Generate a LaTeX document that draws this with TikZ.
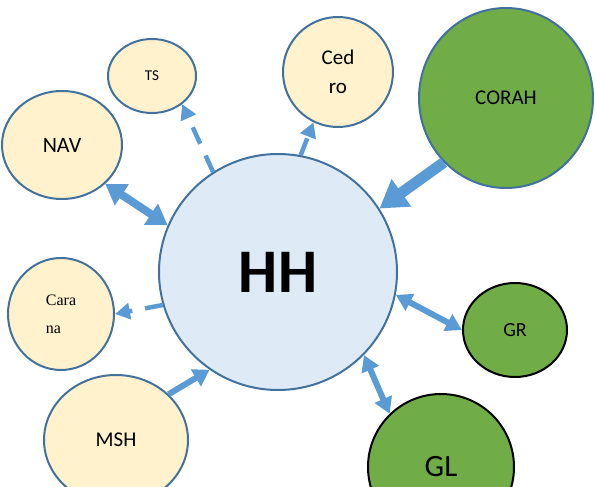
\documentclass[tikz,border=0pt]{standalone}
\usepackage{fontspec}
\setmainfont{Carlito}
\newfontfamily\serifnote{Liberation Serif}
\usetikzlibrary{shapes.geometric,arrows.meta}

\definecolor{cream}{HTML}{FFF2CC}
\definecolor{hubblue}{HTML}{DEEBF7}
\definecolor{leafgreen}{HTML}{70AD47}
\definecolor{rim}{HTML}{41719C}
\definecolor{flow}{HTML}{5B9BD5}

\begin{document}
\begin{tikzpicture}[x = 1pt, y = -1pt,
    blob/.style = {ellipse, line width = 2pt, inner sep = 0pt, text = black},
    soft/.style = {blob, draw = rim, fill = cream},
    grove/.style = {blob, draw = black, fill = leafgreen},
    link/.style = {draw = flow, line width = #1},
    dlink/.style = {draw = flow, line width = 4.5pt, dash pattern = on 18pt off 13pt,
        -{Triangle[length = 15pt, width = 16pt]}}]

    \clip (0, 0) rectangle (595, 487);

    \node [blob, draw = rim, fill = hubblue, minimum width = 238pt, minimum height = 236pt,
        font = \bfseries\fontsize{62}{62}\selectfont] (hh) at (278, 272) {HH};

    \node [soft, minimum width = 88pt, minimum height = 74pt,
        font = \fontsize{15}{18}\selectfont] (ts) at (152, 76) {TS};
    \node [soft, minimum width = 120pt, minimum height = 108pt,
        font = \fontsize{22}{26}\selectfont] (nav) at (62, 145) {NAV};
    \node [soft, minimum width = 110pt, minimum height = 110pt, align = center,
        font = \fontsize{21}{29}\selectfont] (cedro) at (338, 72) {Ced\\ro};
    \node [soft, minimum width = 106pt, minimum height = 112pt, align = left,
        font = \serifnote\fontsize{16}{28}\selectfont] (carana) at (61, 314) {Cara\\na};
    \node [soft, minimum width = 144pt, minimum height = 130pt,
        font = \fontsize{21}{25}\selectfont] (msh) at (116, 440) {MSH};

    %%%%%%%%%%%%%%%%%%%%
    \node [blob, draw = rim, fill = leafgreen, minimum width = 174pt, minimum height = 180pt,
        font = \fontsize{21}{25}\selectfont] (corah) at (506, 98) {CORAH};
    \node [grove, minimum width = 104pt, minimum height = 94pt,
        font = \fontsize{20}{24}\selectfont] (gr) at (515, 330) {GR};
    \node [grove, minimum width = 146pt, minimum height = 146pt,
        font = \fontsize{31}{36}\selectfont] (gl) at (441, 467) {GL};

    %%%%%%%%%%%%%%%%%%%%
    \draw [dlink] (hh.123) -- (ts.-43);
    \draw [dlink] (hh.79) -- (cedro.-116);
    \draw [dlink] (hh.196) -- (carana.0);

    \draw [link = 8pt, {Triangle[length = 20pt, width = 24pt]}-{Triangle[length = 20pt, width = 24pt]}] (nav.-42) -- (hh.157);
    \draw [link = 11pt, -{Triangle[length = 27pt, width = 32pt]}] (corah.-134) -- (hh.32);
    \draw [link = 6pt, -{Triangle[length = 16pt, width = 19pt]}] (msh.41) -- (hh.235);
    \draw [link = 6pt, {Triangle[length = 16pt, width = 18pt]}-{Triangle[length = 16pt, width = 18pt]}] (hh.-11) -- (gr.180);
    \draw [link = 6pt, {Triangle[length = 16pt, width = 18pt]}-{Triangle[length = 16pt, width = 18pt]}] (hh.-44) -- (gl.134);
\end{tikzpicture}
\end{document}
